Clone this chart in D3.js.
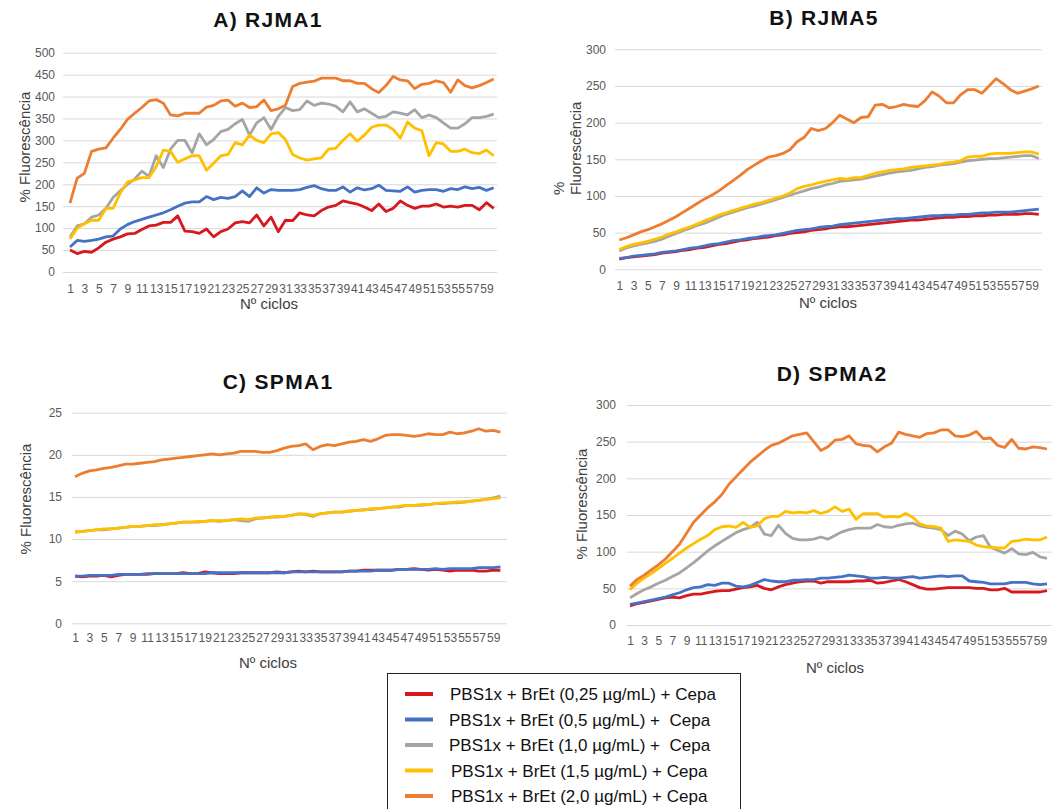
<!DOCTYPE html>
<html>
<head>
<meta charset="utf-8">
<script src="https://cdn.jsdelivr.net/npm/d3@7"></script>
<style>
  body { margin: 0; background: #fff; }
  svg { display: block; }
  text { font-family: "Liberation Sans", Arial, sans-serif; }
</style>
</head>
<body>
<div id="container"></div>
<script>
// ciclos 1..60
let cycles = d3.range(1, 61);
let tickCycles = cycles.filter(function (c) { return c % 2 == 1; });

let seriesNames = [
  "PBS1x + BrEt (0,25 µg/mL) + Cepa",
  "PBS1x + BrEt (0,5 µg/mL) +  Cepa",
  "PBS1x + BrEt (1,0 µg/mL) +  Cepa",
  "PBS1x + BrEt (1,5 µg/mL) + Cepa",
  "PBS1x + BrEt (2,0 µg/mL) + Cepa"
];
let seriesColors = ["#d7191f", "#4472c4", "#a5a5a5", "#ffc000", "#ed7d31"];

// A) RJMA1
let rjma1_025 = [50,42,47,45,55,68,75,80,87,88, 97,105,107,113,113,128,93,92,88,98, 80,92,98,112,115,112,130,105,125,92, 118,117,135,130,128,140,148,152,162,158, 155,148,140,155,138,145,162,152,145,150, 150,155,148,150,148,152,152,142,158,145];
let rjma1_05 = [57,72,70,72,75,80,82,98,108,115, 120,125,130,135,142,150,157,160,160,172, 165,170,168,172,185,172,192,180,188,186, 186,186,188,193,197,190,186,186,194,182, 192,187,190,198,186,185,184,194,182,186, 188,188,184,190,188,194,190,193,186,192];
let rjma1_10 = [80,105,110,125,130,145,170,185,200,212, 230,218,265,238,280,300,300,272,315,290, 302,320,325,338,348,312,340,352,325,355, 375,368,370,390,380,385,383,378,365,388, 365,372,362,352,355,365,362,358,370,352, 358,352,340,328,328,338,352,352,355,360];
let rjma1_15 = [75,100,110,118,118,145,145,180,205,210, 215,215,240,278,275,250,258,265,265,232, 248,265,268,295,290,312,300,295,315,318, 302,268,260,255,258,260,280,282,300,315, 298,312,330,335,335,325,305,342,328,322, 265,295,292,275,275,280,272,270,278,265];
let rjma1_20 = [157,214,225,275,280,283,305,325,348,362, 375,390,393,385,358,356,362,362,362,376, 380,390,392,378,385,375,377,392,368,372, 380,423,430,433,435,442,442,442,436,436, 430,430,418,409,425,446,438,436,418,428, 430,436,432,410,438,425,420,425,432,440];

// B) RJMA5
let rjma5_025 = [14,16,17,18,19,20,22,23,24,26, 27,29,30,32,34,35,37,39,40,42, 43,44,46,47,49,50,51,53,54,55, 57,58,58,59,60,61,62,63,64,65, 66,67,67,68,69,70,71,71,72,72, 73,73,74,74,75,75,75,76,76,75];
let rjma5_05 = [15,16,18,19,20,21,23,24,25,27, 29,30,32,34,35,37,39,40,42,43, 45,46,47,49,51,53,54,55,57,58, 59,61,62,63,64,65,66,67,68,69, 69,70,71,72,73,73,74,74,75,75, 76,77,77,78,78,78,79,80,81,82];
let rjma5_10 = [25,29,32,34,36,38,41,45,49,53, 56,60,63,67,71,75,78,81,84,86, 89,92,95,98,101,104,107,110,112,115, 117,120,121,122,123,125,127,129,131,133, 134,135,137,139,140,142,143,144,146,148, 149,150,151,151,152,153,154,155,155,151];
let rjma5_15 = [27,31,34,36,38,41,44,48,51,55, 58,62,66,70,74,77,80,83,86,89, 91,94,97,100,104,110,113,115,118,120, 122,124,123,125,125,128,131,133,135,136, 137,139,140,141,142,143,145,146,148,153, 154,154,157,158,158,158,159,160,160,157];
let rjma5_20 = [40,43,47,51,54,58,62,67,72,78, 84,90,96,101,107,114,121,128,136,142, 148,153,155,158,163,174,180,192,189,192, 200,210,205,200,207,208,224,225,220,222, 225,223,222,230,242,236,227,227,238,245, 245,240,250,260,253,245,240,243,246,250];

// C) SPMA1
let spma1_025 = [5.6,5.5,5.6,5.6,5.7,5.5,5.7,5.8,5.8,5.8, 5.8,5.9,5.9,5.9,5.9,6.0,5.9,5.9,6.1,6.0, 5.9,5.9,5.9,6.0,6.0,6.0,6.0,6.0,6.1,6.0, 6.1,6.2,6.1,6.2,6.1,6.1,6.1,6.1,6.2,6.2, 6.3,6.3,6.3,6.3,6.3,6.4,6.4,6.5,6.4,6.3, 6.4,6.3,6.2,6.3,6.3,6.3,6.2,6.2,6.3,6.3];
let spma1_05 = [5.6,5.6,5.7,5.7,5.7,5.7,5.8,5.8,5.8,5.8, 5.9,5.9,5.9,5.9,5.9,5.9,5.9,5.9,5.9,6.0, 6.0,6.0,6.0,6.0,6.0,6.0,6.0,6.0,6.0,6.0, 6.1,6.1,6.1,6.1,6.1,6.1,6.1,6.1,6.2,6.2, 6.2,6.2,6.3,6.3,6.3,6.4,6.4,6.4,6.4,6.4, 6.5,6.4,6.5,6.5,6.5,6.5,6.6,6.6,6.6,6.7];
let spma1_10 = [10.8,10.9,11.0,11.1,11.1,11.2,11.3,11.4,11.5,11.5, 11.6,11.6,11.7,11.8,11.9,12.0,12.0,12.0,12.1,12.2, 12.1,12.2,12.3,12.2,12.1,12.4,12.5,12.6,12.6,12.7, 12.8,13.0,12.9,12.7,13.0,13.1,13.2,13.2,13.3,13.4, 13.5,13.5,13.6,13.7,13.8,13.8,14.0,14.0,14.0,14.1, 14.2,14.2,14.3,14.3,14.4,14.5,14.6,14.7,14.9,15.1];
let spma1_15 = [10.9,10.9,11.0,11.1,11.2,11.2,11.3,11.4,11.5,11.5, 11.6,11.7,11.7,11.8,11.9,12.0,12.0,12.1,12.1,12.2, 12.2,12.2,12.3,12.4,12.3,12.5,12.5,12.6,12.7,12.7, 12.8,13.0,13.0,12.8,13.0,13.1,13.2,13.2,13.3,13.4, 13.4,13.6,13.6,13.7,13.8,13.9,14.0,14.0,14.1,14.1, 14.2,14.3,14.3,14.4,14.4,14.5,14.6,14.7,14.8,14.9];
let spma1_20 = [17.4,17.8,18.1,18.2,18.4,18.5,18.7,18.9,18.9,19.0, 19.1,19.2,19.4,19.5,19.6,19.7,19.8,19.9,20.0,20.1, 20.0,20.1,20.2,20.4,20.4,20.4,20.3,20.3,20.5,20.8, 21.0,21.1,21.3,20.6,21.0,21.2,21.1,21.3,21.5,21.6, 21.8,21.6,21.9,22.3,22.4,22.4,22.3,22.2,22.3,22.5, 22.4,22.4,22.7,22.5,22.6,22.8,23.1,22.8,22.9,22.7];

// D) SPMA2
let spma2_025 = [26,29,31,33,35,37,38,37,40,42, 42,44,46,47,47,49,51,52,54,50, 48,52,55,57,59,60,60,57,59,59, 59,59,60,60,61,57,58,60,62,59, 55,51,49,49,50,51,51,51,51,50, 50,48,48,50,45,45,45,45,45,47];
let spma2_05 = [28,30,32,34,36,38,41,44,48,51, 52,55,54,57,57,53,52,54,58,62, 60,59,59,61,61,62,62,64,64,65, 66,68,67,66,64,64,65,64,64,65, 66,64,65,66,67,66,67,67,60,59, 58,56,56,56,58,58,58,56,55,56];
let spma2_10 = [37,43,48,52,57,61,66,71,78,85, 93,101,108,114,120,126,130,133,140,124, 122,136,125,118,116,116,117,120,117,122, 127,130,132,132,132,137,134,133,136,138, 139,135,133,132,130,122,128,124,115,120, 122,106,102,98,104,97,96,99,93,91];
let spma2_15 = [48,57,64,70,77,84,91,98,105,111, 117,122,130,134,135,133,140,133,135,145, 148,148,155,153,154,153,156,152,155,161, 155,158,144,152,152,152,147,148,147,152, 147,138,135,134,132,114,116,115,114,109, 107,106,105,105,114,115,117,116,116,120];
let spma2_20 = [53,62,68,75,82,90,100,110,125,140, 150,160,168,178,192,202,212,222,230,238, 245,248,253,258,260,262,250,238,243,252, 253,258,247,245,244,236,243,248,263,260, 258,256,261,262,266,266,258,257,259,264, 254,255,245,242,253,241,240,243,242,240];

let w = 1057;
let h = 809;

let svg = d3.select("#container")
  .append("svg")
  .attr("width", w)
  .attr("height", h);

let panels = [
  { title: "A) RJMA1", tx: 268, ty: 27, data: [rjma1_025, rjma1_05, rjma1_10, rjma1_15, rjma1_20],
    yMax: 500, yStep: 50, yTop: 52.7, yBot: 272, x1: 70, x60: 493.7, gx0: 63, gx1: 497, ypad: 8, xpad: 12,
    ylab: ["% Fluorescência"], ylabX: 30, ylabY: 147, xlabX: 269, xlabY: 309 },
  { title: "B) RJMA5", tx: 824, ty: 25, data: [rjma5_025, rjma5_05, rjma5_10, rjma5_15, rjma5_20],
    yMax: 300, yStep: 50, yTop: 49.3, yBot: 269.3, x1: 619.3, x60: 1038.8, gx0: 615, gx1: 1042, ypad: 9, xpad: 12,
    ylab: ["%", "Fluorescência"], ylabX: 564, ylabY: 195, xlabX: 828, xlabY: 308 },
  { title: "C) SPMA1", tx: 278, ty: 389, data: [spma1_025, spma1_05, spma1_10, spma1_15, spma1_20],
    yMax: 25, yStep: 5, yTop: 412.7, yBot: 623.3, x1: 75, x60: 500.4, gx0: 72, gx1: 507, ypad: 10, xpad: 10.5,
    ylab: ["% Fluorescência"], ylabX: 31, ylabY: 499, xlabX: 268, xlabY: 668 },
  { title: "D) SPMA2", tx: 832, ty: 381, data: [spma2_025, spma2_05, spma2_10, spma2_15, spma2_20],
    yMax: 300, yStep: 50, yTop: 405, yBot: 625, x1: 630, x60: 1047, gx0: 627, gx1: 1052, ypad: 11, xpad: 11,
    ylab: ["% Fluorescência"], ylabX: 587, ylabY: 504, xlabX: 835, xlabY: 673 }
];

panels.forEach(drawPanel);

function drawPanel(p) {
  let g = svg.append("g");

  let xScale = d3.scalePoint().domain(cycles).range([p.x1, p.x60]);
  let yScale = d3.scaleLinear().domain([0, p.yMax]).range([p.yBot, p.yTop]);

  // grid + y labels
  let yAxis = d3.axisLeft(yScale)
    .tickValues(d3.range(0, p.yMax + p.yStep / 2, p.yStep))
    .tickSize(-(p.gx1 - p.gx0))
    .tickPadding(p.ypad);
  let yAxisGroup = g.append("g")
    .attr("transform", "translate(" + p.gx0 + ",0)")
    .call(yAxis);
  yAxisGroup.select(".domain").remove();
  yAxisGroup.selectAll("line").attr("stroke", "#d9d9d9");
  yAxisGroup.selectAll("text")
    .attr("fill", "#595959")
    .style("font-size", "12px");

  let xAxis = d3.axisBottom(xScale)
    .tickValues(tickCycles)
    .tickSize(0)
    .tickPadding(p.xpad);
  let xAxisGroup = g.append("g")
    .attr("transform", "translate(0," + p.yBot + ")")
    .call(xAxis);
  xAxisGroup.select(".domain").remove();
  xAxisGroup.selectAll("text")
    .attr("fill", "#595959")
    .style("font-size", "12px");

  let line = d3.line()
    .x(function (d, i) { return xScale(cycles[i]); })
    .y(function (d) { return yScale(d); });

  g.selectAll(".serie")
    .data(p.data)
    .enter()
    .append("path")
    .attr("class", "serie")
    .attr("fill", "none")
    .attr("stroke", function (d, i) { return seriesColors[i]; })
    .attr("stroke-width", 2.8)
    .attr("stroke-linejoin", "round")
    .attr("d", line);

  g.append("text")
    .attr("x", p.tx)
    .attr("y", p.ty)
    .attr("text-anchor", "middle")
    .style("font-size", "21px")
    .style("font-weight", "bold")
    .style("letter-spacing", "1.3px")
    .attr("fill", "#111")
    .text(p.title);

  // y title (can be 2 lines)
  p.ylab.forEach(function (t, i) {
    g.append("text")
      .attr("transform", "translate(" + (p.ylabX + i * 17) + "," + p.ylabY + ") rotate(-90)")
      .attr("text-anchor", p.ylab.length > 1 ? "start" : "middle")
      .style("font-size", "15px")
      .attr("fill", "#404040")
      .text(t);
  });

  g.append("text")
    .attr("x", p.xlabX)
    .attr("y", p.xlabY)
    .attr("text-anchor", "middle")
    .style("font-size", "15px")
    .attr("fill", "#404040")
    .text("Nº ciclos");
}

// legend
let legend = svg.append("g").attr("transform", "translate(387,673)");
legend.append("rect")
  .attr("x", 0.5).attr("y", 0.5)
  .attr("width", 353).attr("height", 140)
  .attr("fill", "#fff")
  .attr("stroke", "#222")
  .attr("stroke-width", 1);

let legendRows = legend.selectAll(".leg")
  .data(seriesNames)
  .enter()
  .append("g")
  .attr("class", "leg")
  .attr("transform", function (d, i) { return "translate(0," + (21 + i * 25.5) + ")"; });

legendRows.append("line")
  .attr("x1", 18).attr("x2", 46)
  .attr("y1", 0).attr("y2", 0)
  .attr("stroke", function (d, i) { return seriesColors[i]; })
  .attr("stroke-width", 4);

legendRows.append("text")
  .attr("x", function (d, i) { return i == 0 ? 63 : (i == 1 || i == 2 ? 62 : 64); })
  .attr("y", 6)
  .style("font-size", "17px")
  .style("white-space", "pre")
  .attr("fill", "#111")
  .text(function (d) { return d; });
</script>
</body>
</html>
